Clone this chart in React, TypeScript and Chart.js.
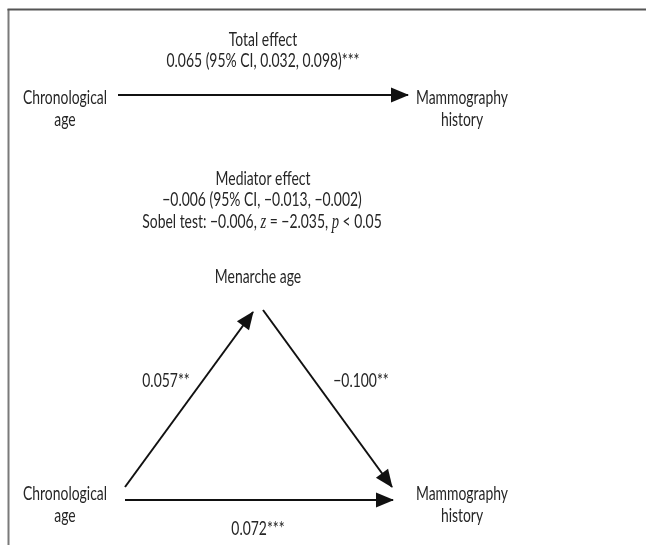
import { useEffect, useRef } from "react";
import { Chart, registerables } from "chart.js";

Chart.register(...registerables);

// ---- data ----
const nodeLabels: string[][] = [
  ["Chronological", "age"],
  ["Mammography", "history"],
  ["Chronological", "age"],
  ["Mammography", "history"],
  ["Menarche age"],
];
const nodeX = [65, 462, 65, 462, 258];
const nodeY = [104, 104, 500, 500, 283];

const totalTitle = "Total effect";
const totalValue = "0.065 (95% CI, 0.032, 0.098)***";
const mediatorTitle = "Mediator effect";
const mediatorValue = "\u22120.006 (95% CI, \u22120.013, \u22120.002)";
// [text, italic]
const sobelParts: [string, boolean][] = [
  ["Sobel test: \u22120.006, ", false],
  ["z", true],
  [" = \u22122.035, ", false],
  ["p", true],
  [" < 0.05", false],
];
const headerX = [263, 263, 263, 262, 262];
const headerY = [46, 67, 185, 206, 228];

// arrows (paths)
const pathFromX = [118, 125, 263, 125];
const pathFromY = [95, 487, 310, 500];
const pathToX = [408, 253, 392, 393];
const pathToY = [95, 312, 487, 500];

// frame edges (top, left)
const frameFromX = [7.5, 8.5];
const frameFromY = [9.5, 9];
const frameToX = [646, 8.5];
const frameToY = [9.5, 545];
const frameColors = ["#555555", "#7a7a7a"];

const coefLabels = ["0.057**", "\u22120.100**", "0.072***"];
const coefX = [166, 361, 258];
const coefY = [387, 387, 535];

const W = 646;
const H = 545;
const FONT = "Lato";
const FONT_SIZE = 19;
const TEXT_COLOR = "#262626";

const diagramPlugin = {
  id: "diagram",
  afterDatasetsDraw(chart: any) {
    const ctx: CanvasRenderingContext2D = chart.ctx;
    const xs = chart.scales.x;
    const ys = chart.scales.y;
    const px = (v: number) => xs.getPixelForValue(v);
    const py = (v: number) => ys.getPixelForValue(v);

    // arrowheads
    chart.data.datasets.forEach((ds: any, i: number) => {
      if (!ds.arrow) return;
      const meta = chart.getDatasetMeta(i);
      const p0 = meta.data[0];
      const p1 = meta.data[1];
      const ang = Math.atan2(p1.y - p0.y, p1.x - p0.x);
      const L = 17;
      const hw = 7.5;
      ctx.save();
      ctx.fillStyle = "#111";
      ctx.translate(p1.x, p1.y);
      ctx.rotate(ang);
      ctx.beginPath();
      ctx.moveTo(1, 0);
      ctx.lineTo(-L, -hw);
      ctx.lineTo(-L, hw);
      ctx.closePath();
      ctx.fill();
      ctx.restore();
    });

    // text
    ctx.save();
    ctx.fillStyle = TEXT_COLOR;
    ctx.textBaseline = "alphabetic";
    ctx.font = `${FONT_SIZE}px ${FONT}`;
    const sx = 84 / ctx.measureText("Chronological").width;

    const fontFor = (it: boolean) =>
      it ? `italic ${FONT_SIZE + 1}px "Liberation Serif"` : `${FONT_SIZE}px ${FONT}`;

    const drawCentered = (parts: [string, boolean][], cx: number, cy: number) => {
      let total = 0;
      const widths = parts.map(([t, it]) => {
        ctx.font = fontFor(it);
        const w = ctx.measureText(t).width * sx;
        total += w;
        return w;
      });
      let x = cx - total / 2;
      parts.forEach(([t, it], k) => {
        ctx.font = fontFor(it);
        ctx.save();
        ctx.translate(x, cy);
        ctx.scale(sx, 1);
        ctx.textAlign = "left";
        ctx.fillText(t, 0, 0);
        ctx.restore();
        x += widths[k];
      });
    };

    nodeLabels.forEach((lines, i) => {
      lines.forEach((t, j) => {
        drawCentered([[t, false]], px(nodeX[i]), py(nodeY[i] + j * 22));
      });
    });

    const headers: [string, boolean][][] = [
      [[totalTitle, false]],
      [[totalValue, false]],
      [[mediatorTitle, false]],
      [[mediatorValue, false]],
      sobelParts,
    ];
    headers.forEach((parts, i) => drawCentered(parts, px(headerX[i]), py(headerY[i])));

    coefLabels.forEach((t, i) => drawCentered([[t, false]], px(coefX[i]), py(coefY[i])));
    ctx.restore();
  },
};

export default function App() {
  const ref = useRef<HTMLCanvasElement | null>(null);
  useEffect(() => {
    document.body.style.margin = "0";
    document.body.style.overflow = "hidden";
    document.documentElement.style.overflow = "hidden";
    if (!ref.current) return;
    const frameSets = frameFromX.map((_, i) => ({
      label: `frame${i}`,
      data: [
        { x: frameFromX[i], y: frameFromY[i] },
        { x: frameToX[i], y: frameToY[i] },
      ],
      showLine: true,
      borderColor: frameColors[i],
      borderWidth: 2,
      pointRadius: 0,
      pointHoverRadius: 0,
      fill: false,
      clip: false,
      arrow: false,
    }));
    const arrowSets = pathFromX.map((_, i) => ({
      label: `path${i}`,
      data: [
        { x: pathFromX[i], y: pathFromY[i] },
        { x: pathToX[i], y: pathToY[i] },
      ],
      showLine: true,
      borderColor: "#111",
      borderWidth: 2,
      pointRadius: 0,
      pointHoverRadius: 0,
      fill: false,
      clip: false,
      arrow: true,
    }));
    const chart = new Chart(ref.current, {
      type: "scatter",
      data: { datasets: [...frameSets, ...arrowSets] },
      options: {
        animation: false,
        responsive: false,
        devicePixelRatio: 1,
        layout: { padding: 0 },
        events: [],
        scales: {
          x: { type: "linear", min: 0, max: W, display: false, grid: { display: false }, border: { display: false } },
          y: { type: "linear", min: 0, max: H, reverse: true, display: false, grid: { display: false }, border: { display: false } },
        },
        plugins: {
          legend: { display: false },
          tooltip: { enabled: false },
        },
      },
      plugins: [diagramPlugin],
    } as any);
    return () => chart.destroy();
  }, []);
  return (
    <div style={{ position: "fixed", left: 0, top: 0, width: W, height: H, background: "#fff", overflow: "hidden" }}>
      <canvas ref={ref} width={W} height={H} style={{ display: "block", width: W, height: H }} />
    </div>
  );
}
